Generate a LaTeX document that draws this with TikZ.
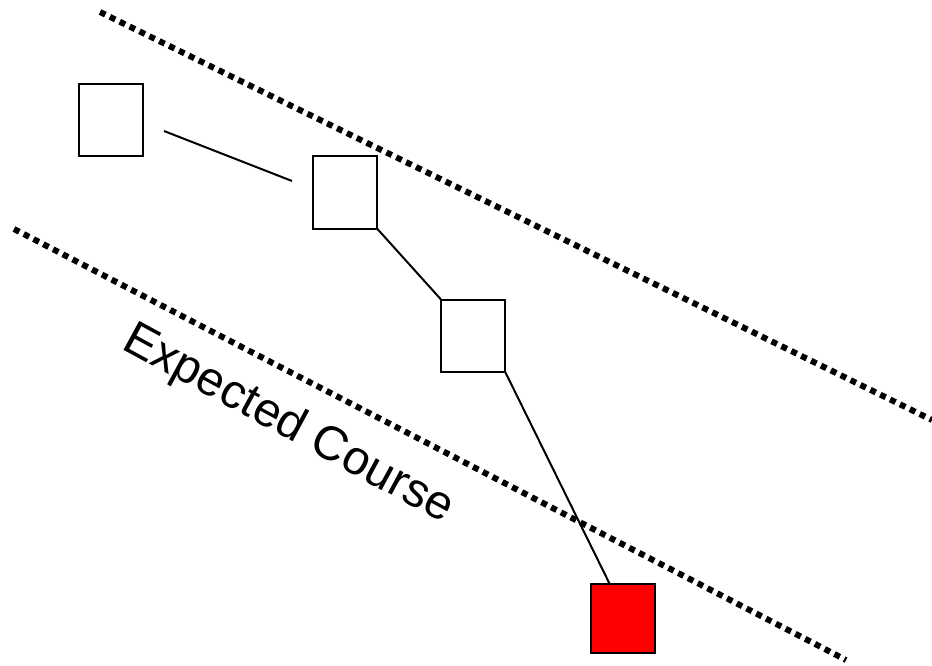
\documentclass[tikz,border=0pt]{standalone}
\usepackage{fontspec}
\setmainfont{Liberation Sans}
\usetikzlibrary{calc}
\begin{document}
\begin{tikzpicture}[x=1pt,y=-1pt,
  box/.style={draw=black,line width=2pt,minimum width=64pt,minimum height=72pt,inner sep=0pt,outer sep=0pt},
  conn/.style={draw=black,line width=2pt},
  bound/.style={draw=black,line width=6pt,dash pattern=on 6pt off 5pt}]
\useasboundingbox (0,0) rectangle (932,666);
\node[box] (s1) at (110.5,120.5) {};
\node[box] (s2) at (345,192.5) {};
\node[box] (s3) at (473,335.5) {};
\node[box,fill=red,minimum height=69pt] (s4) at (622.5,618.5) {};
\coordinate (a1) at (164,131);
\coordinate (a2) at (292,181);
\coordinate (u1) at (100,12);
\coordinate (u2) at (932,420);
\coordinate (l1) at (14,229);
\coordinate (l2) at (846,660);
\draw[bound] (u1) -- (u2);
\draw[bound] (l1) -- (l2);
\draw[conn] (a1) -- (a2);
\draw[conn] (s2.south east) -- (s3.north west);
\draw[conn] (s3.south east) -- ($(s4.north west)!0.3!(s4.north east)$);
\node[rotate=-28.5,font=\fontsize{48}{56}\selectfont] (lbl) at (288,425) {Expected Course};
\end{tikzpicture}
\end{document}
